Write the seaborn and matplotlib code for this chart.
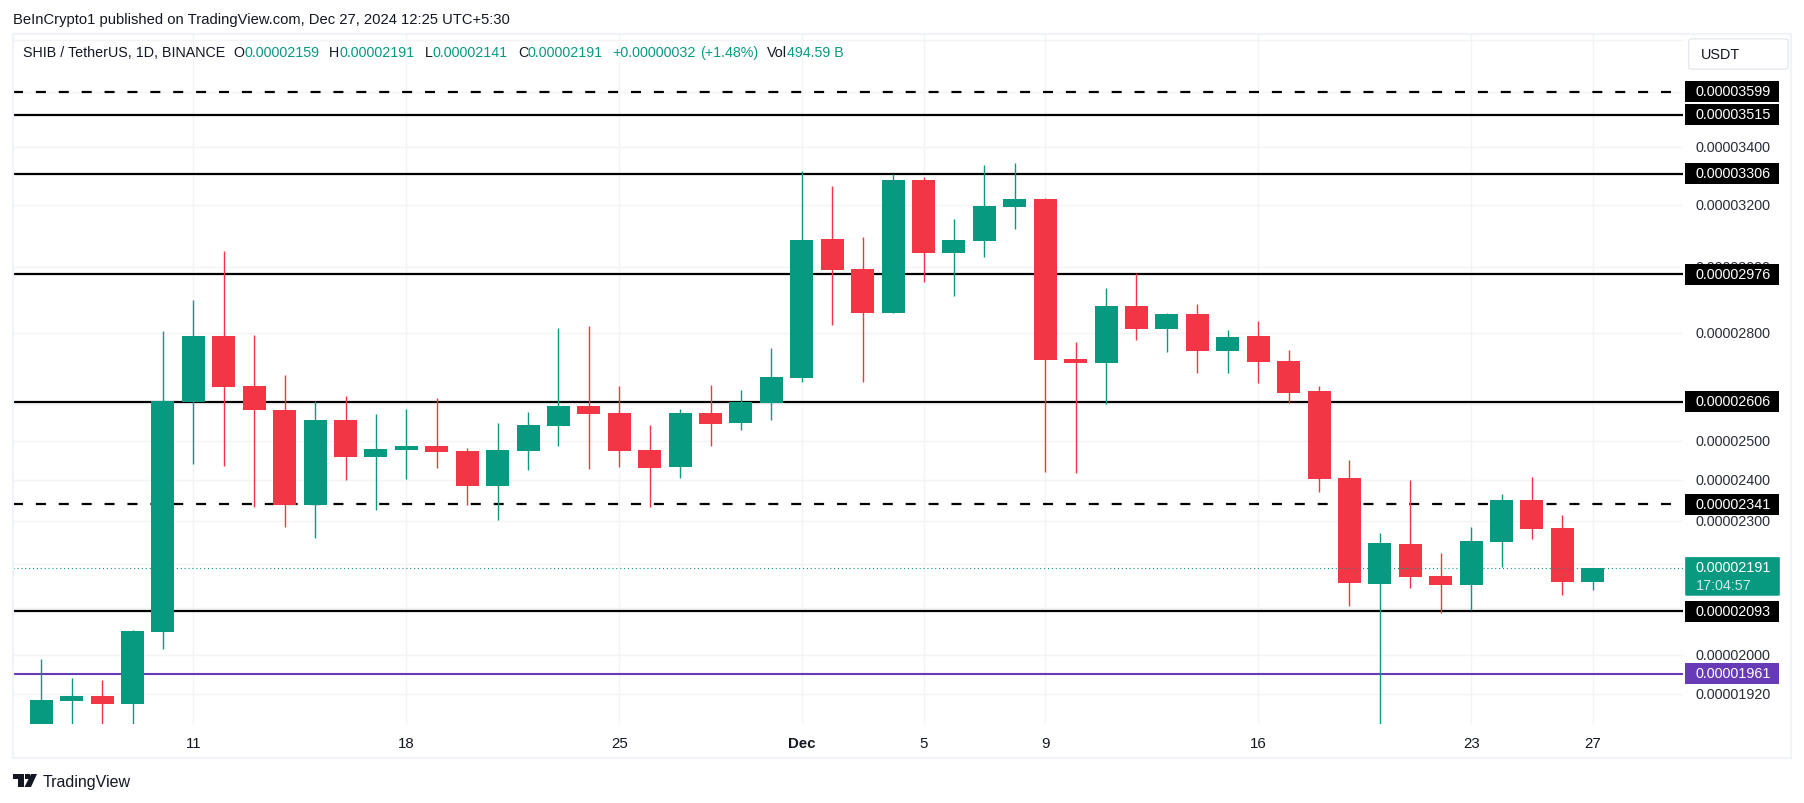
import numpy as np
import pandas as pd
import matplotlib
matplotlib.use("Agg")
import matplotlib.pyplot as plt
import seaborn as sns
from matplotlib.patches import Rectangle, FancyBboxPatch
from matplotlib.transforms import ScaledTranslation

# prices in units of 1e-8 USDT
opens = [1855, 1906, 1916, 1900, 2049, 2606, 2791, 2649, 2583, 2340, 2557, 2460, 2478,
         2488, 2475, 2386, 2475, 2540, 2594, 2575, 2478, 2434, 2575, 2548, 2602, 2671,
         3089, 2993, 2859, 3285, 3044, 3083, 3194, 3221, 2725, 2713, 2880, 2812, 2856,
         2748, 2791, 2719, 2635, 2406, 2153, 2246, 2171, 2151, 2251, 2351, 2284, 2159]
highs = [1991, 1952, 1948, 2052, 2806, 2897, 3048, 2794, 2680, 2608, 2621, 2572, 2586,
         2615, 2482, 2548, 2578, 2814, 2820, 2649, 2543, 2586, 2652, 2638, 2756, 3316,
         3264, 3095, 3306, 3295, 3154, 3336, 3343, 3224, 2774, 2935, 2981, 2859, 2886,
         2808, 2835, 2751, 2649, 2452, 2272, 2401, 2225, 2286, 2366, 2408, 2315, 2191]
lows = [1855, 1855, 1855, 1855, 2012, 2442, 2437, 2335, 2285, 2261, 2401, 2327, 2404,
        2432, 2339, 2303, 2427, 2488, 2429, 2434, 2333, 2406, 2488, 2530, 2557, 2660,
        2823, 2660, 2859, 2953, 2910, 3031, 3120, 2421, 2419, 2600, 2779, 2745, 2686,
        2686, 2657, 2602, 2371, 2105, 1855, 2145, 2089, 2096, 2193, 2258, 2129, 2141]
closes = [1908, 1916, 1900, 2051, 2608, 2791, 2646, 2582, 2340, 2557, 2460, 2480, 2488,
          2473, 2386, 2478, 2543, 2594, 2573, 2475, 2432, 2575, 2546, 2605, 2674, 3086,
          2990, 2859, 3285, 3044, 3086, 3197, 3221, 2722, 2713, 2880, 2812, 2856, 2748,
          2788, 2716, 2630, 2403, 2156, 2248, 2169, 2151, 2253, 2351, 2281, 2159, 2191]

first_day = "2024-11-06"
tick_days = ["2024-11-11", "2024-11-18", "2024-11-25", "2024-12-01", "2024-12-05",
             "2024-12-09", "2024-12-16", "2024-12-23", "2024-12-27"]
tick_names = ["11", "18", "25", "Dec", "5", "9", "16", "23", "27"]

price_grid = [3800, 3600, 3400, 3200, 3000, 2800, 2600, 2500, 2400, 2300, 2200, 2100, 2000, 1920]
hidden_ticks = [3800, 3600, 2600, 2200, 2100]
solid_levels = [3515, 3306, 2976, 2606, 2093]
dashed_levels = [3599, 2341]
support_level = [1961]
last_price = 2191

GREEN = "#089981"
RED = "#f23645"
PURPLE = "#673ab7"
INK = "#131722"
GRID = "#f3f4f6"
BORDER = "#f0f3fa"
W, H = 1804, 803
FONT = "Liberation Sans"


def fmt(v):
    return f"0.{v:08d}"


def px(x, y):
    return x / W, 1 - y / H


sns.set_theme(style="white")
plt.rcParams["font.family"] = [FONT, "DejaVu Sans"]

fig = plt.figure(figsize=((W + 0.5) / 100, (H + 0.5) / 100), dpi=100, facecolor="white")
ax = fig.add_axes([13 / W, 1 - 724 / H, (1683 - 13) / W, (724 - 35) / H])

dates = pd.date_range(first_day, periods=len(opens), freq="D")
df = pd.DataFrame({"day": np.arange(len(opens)), "open": opens, "high": highs,
                   "low": lows, "close": closes})
df["bottom"] = df[["open", "close"]].min(axis=1)
df["height"] = (df["close"] - df["open"]).abs()
up = df[df["close"] >= df["open"]]
down = df[df["close"] < df["open"]]

# candle bodies and wicks
for part, col in [(up, GREEN), (down, RED)]:
    ax.vlines(part["day"], part["low"], part["high"], color=col, lw=1.0, zorder=3)
    sns.barplot(data=part, x="day", y="height", bottom=part["bottom"].values, color=col,
                native_scale=True, width=0.756, saturation=1, errorbar=None,
                linewidth=0, ax=ax, zorder=4)

ax.set_yscale("log")
ax.set_ylim(1861, 3823)
ax.set_xlim(-0.93, 53.98)
ax.set_xlabel("")
ax.set_ylabel("")
for s in ax.spines.values():
    s.set_visible(False)

# horizontal levels
for lv in solid_levels:
    ax.axhline(lv, color="black", lw=1.6, zorder=2)
for lv in dashed_levels:
    ax.axhline(lv, color="black", lw=1.6, ls=(0, (4.5, 5.8)), zorder=2, xmax=0.994)
ax.axhline(support_level[0], color=PURPLE, lw=1.5, zorder=2)
ax.axhline(last_price, color=GREEN, lw=0.8, ls=(0, (1, 2.5)), zorder=5)

# axes ticks
tick_pos = [dates.get_loc(pd.Timestamp(d)) for d in tick_days]
ax.set_xticks(tick_pos, tick_names)
ax.set_yticks(price_grid, ["" if p in hidden_ticks else fmt(p) for p in price_grid])
ax.minorticks_off()
ax.yaxis.tick_right()
ax.tick_params(axis="y", length=0, pad=8.6, labelsize=10.4, labelcolor="#2a2e39")
ax.tick_params(axis="x", length=0, pad=9, labelsize=10.8, labelcolor=INK)
ax.get_xticklabels()[3].set_fontweight("bold")
for lab in ax.get_yticklabels():
    lab.set_transform(lab.get_transform() + ScaledTranslation(0, 1 / 100, fig.dpi_scale_trans))
ax.grid(True, color=GRID, lw=1.0, zorder=0)
ax.set_axisbelow(True)

# outer frame
fig.add_artist(Rectangle(px(13, 758), (1791 - 13) / W, (758 - 34) / H, transform=fig.transFigure,
                         fill=False, ec=BORDER, lw=1.6, zorder=1))

# price labels on the scale
def level_y(price):
    return H - ax.transData.transform((0, price))[1]


def price_tag(price, color):
    y = level_y(price)
    fig.add_artist(Rectangle(px(1685, y + 10.5), 94 / W, 21 / H, transform=fig.transFigure,
                             fc=color, ec="none", zorder=2))
    fig.text(1695 / W, 1 - y / H, fmt(price), color="white", fontsize=10.4, va="center", ha="left", zorder=3)


for lv in dashed_levels + solid_levels:
    price_tag(lv, "black")
price_tag(support_level[0], PURPLE)

fig.add_artist(FancyBboxPatch(px(1686, 595), 92 / W, 37 / H, transform=fig.transFigure,
                              boxstyle="round,pad=0.0005", fc=GREEN, ec=GREEN, lw=0.5, zorder=2))
fig.text(1695 / W, 1 - 567.7 / H, fmt(last_price), color="white", fontsize=10.4, va="center", zorder=3)
fig.text(1695 / W, 1 - 585.7 / H, "17:04:57", color="#cdebe6", fontsize=10.4, va="center", zorder=3)

# currency button
fig.add_artist(FancyBboxPatch(px(1692, 68), 92 / W, 27 / H, transform=fig.transFigure,
                              boxstyle="round,pad=0.002", fc="white", ec="#e0e3eb", lw=0.8, zorder=2))
fig.text(1700 / W, 1 - 55 / H, "USDT", color=INK, fontsize=10.4, va="center", zorder=3)

# header and legend row
fig.text(13 / W, 1 - 20 / H, "BeInCrypto1 published on TradingView.com, Dec 27, 2024 12:25 UTC+5:30",
         color=INK, fontsize=10.65, va="center")
legend_row = [(23, "SHIB / TetherUS, 1D, BINANCE", INK), (233, "O", INK), (244, fmt(2159), GREEN),
              (329, "H", INK), (339, fmt(2191), GREEN), (425, "L", INK), (432, fmt(2141), GREEN),
              (518, "C", INK), (527, fmt(2191), GREEN), (612, "+0.00000032", GREEN),
              (700, "(+1.48%)", GREEN), (767, "Vol", INK), (787, "494.59 B", GREEN)]
for x, txt, col in legend_row:
    fig.text(x / W, 1 - 53 / H, txt, color=col, fontsize=10.3, va="center")

# logo in its own little axes, 24 x 13 pixels
logo = fig.add_axes([13 / W, 1 - 787 / H, 24 / W, 13 / H])
logo.set_xlim(0, 24)
logo.set_ylim(13, 0)
logo.axis("off")
logo.fill([0, 11, 11, 5, 5, 0], [0, 0, 13, 13, 5, 5], color=INK, lw=0)
logo.fill([12, 17, 17, 12], [0, 0, 5, 5], color=INK, lw=0)
logo.fill([18, 24, 18, 11.5], [0, 0, 13, 13], color=INK, lw=0)
fig.text(43 / W, 1 - 782 / H, "TradingView", color=INK, fontsize=11.5, va="center")

fig.savefig("out.png", dpi=100, facecolor="white")
